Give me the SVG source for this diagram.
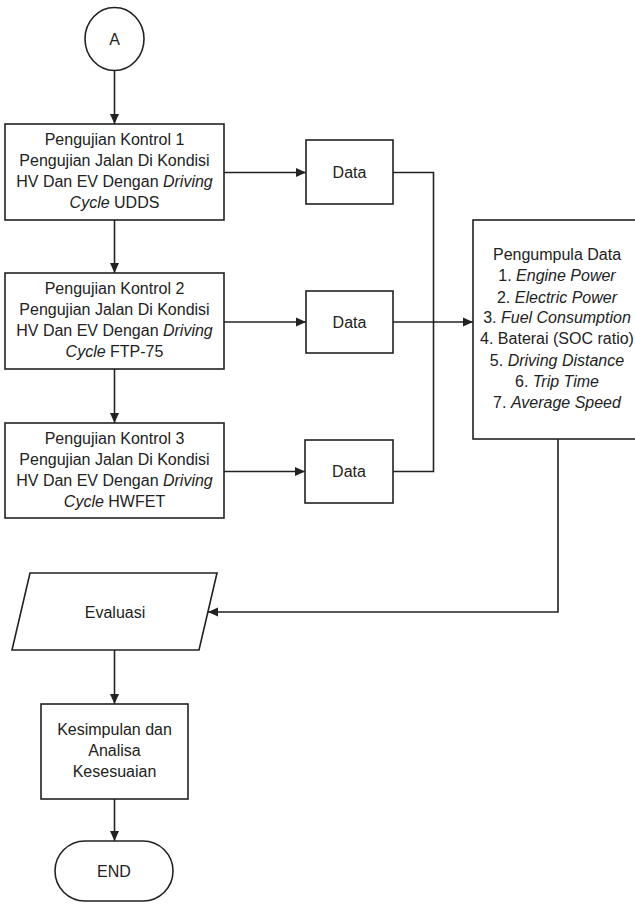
<svg xmlns="http://www.w3.org/2000/svg" width="635" height="904" viewBox="0 0 635 904">
<style>
.s{fill:#fff;stroke:#222;stroke-width:1.6}
.c{fill:none;stroke:#222;stroke-width:1.6}
text{font-family:"Liberation Sans",Arial,sans-serif;font-size:16px;fill:#222;text-anchor:middle}
.i{font-style:italic}
</style>
<defs>
<marker id="ah" viewBox="0 0 10 10" refX="10" refY="5" markerWidth="10" markerHeight="10" markerUnits="userSpaceOnUse" orient="auto">
<path d="M0,0.5 L10,5 L0,9.5 Z" fill="#222"/>
</marker>
</defs>
<rect width="635" height="904" fill="#fff"/>
<g id="connectors">
<line class="c" x1="114.5" y1="70.5" x2="114.5" y2="124" marker-end="url(#ah)"/>
<line class="c" x1="114.5" y1="220" x2="114.5" y2="273" marker-end="url(#ah)"/>
<line class="c" x1="114.5" y1="369" x2="114.5" y2="423" marker-end="url(#ah)"/>
<line class="c" x1="224" y1="172.5" x2="306" y2="172.5" marker-end="url(#ah)"/>
<line class="c" x1="224" y1="322" x2="306" y2="322" marker-end="url(#ah)"/>
<line class="c" x1="224" y1="471.5" x2="305" y2="471.5" marker-end="url(#ah)"/>
<polyline class="c" points="393,172.5 433.5,172.5 433.5,471.5 393,471.5"/>
<line class="c" x1="393" y1="322" x2="473" y2="322" marker-end="url(#ah)"/>
<polyline class="c" points="558,439 558,612 208,612" marker-end="url(#ah)"/>
<line class="c" x1="114.5" y1="650" x2="114.5" y2="704" marker-end="url(#ah)"/>
<line class="c" x1="114.5" y1="799" x2="114.5" y2="841" marker-end="url(#ah)"/>
</g>
<g id="start">
<ellipse class="s" cx="114.5" cy="39" rx="29.5" ry="31.5"/>
<text x="114.5" y="44.5">A</text>
</g>
<g id="kontrol1">
<rect class="s" x="5" y="124" width="219" height="96"/>
<text x="114.5" y="144.5">Pengujian Kontrol 1</text>
<text x="114.5" y="166">Pengujian Jalan Di Kondisi</text>
<text x="114.5" y="187">HV Dan EV Dengan <tspan class="i">Driving</tspan></text>
<text x="114.5" y="208"><tspan class="i">Cycle</tspan> UDDS</text>
</g>
<g id="kontrol2">
<rect class="s" x="5" y="273" width="219" height="96"/>
<text x="114.5" y="293.5">Pengujian Kontrol 2</text>
<text x="114.5" y="315">Pengujian Jalan Di Kondisi</text>
<text x="114.5" y="336">HV Dan EV Dengan <tspan class="i">Driving</tspan></text>
<text x="114.5" y="357"><tspan class="i">Cycle</tspan> FTP-75</text>
</g>
<g id="kontrol3">
<rect class="s" x="5" y="423" width="219" height="95"/>
<text x="114.5" y="443.5">Pengujian Kontrol 3</text>
<text x="114.5" y="465">Pengujian Jalan Di Kondisi</text>
<text x="114.5" y="486">HV Dan EV Dengan <tspan class="i">Driving</tspan></text>
<text x="114.5" y="507"><tspan class="i">Cycle</tspan> HWFET</text>
</g>
<g id="data1">
<rect class="s" x="306" y="140" width="87" height="64"/>
<text x="349.5" y="178">Data</text>
</g>
<g id="data2">
<rect class="s" x="306" y="291" width="87" height="62"/>
<text x="349.5" y="328">Data</text>
</g>
<g id="data3">
<rect class="s" x="305" y="440" width="88" height="63"/>
<text x="349" y="477">Data</text>
</g>
<g id="pengumpulan">
<rect class="s" x="473" y="220" width="170" height="219"/>
<text x="557" y="260">Pengumpula Data</text>
<text x="557" y="281">1. <tspan class="i">Engine Power</tspan></text>
<text x="557" y="302.5">2. <tspan class="i">Electric Power</tspan></text>
<text x="557" y="323">3. <tspan class="i">Fuel Consumption</tspan></text>
<text x="557" y="344">4. Baterai (SOC ratio)</text>
<text x="557" y="365.5">5. <tspan class="i">Driving Distance</tspan></text>
<text x="557" y="386.5">6. <tspan class="i">Trip Time</tspan></text>
<text x="557" y="407.5">7. <tspan class="i">Average Speed</tspan></text>
</g>
<g id="evaluasi">
<polygon class="s" points="30,573 217,573 199,650 12,650"/>
<text x="115" y="617.5">Evaluasi</text>
</g>
<g id="kesimpulan">
<rect class="s" x="41" y="704" width="147" height="95"/>
<text x="114.5" y="734.5">Kesimpulan dan</text>
<text x="114.5" y="755.5">Analisa</text>
<text x="114.5" y="776.5">Kesesuaian</text>
</g>
<g id="end">
<rect class="s" x="55" y="841" width="118" height="60" rx="30" ry="30"/>
<text x="114" y="877">END</text>
</g>
</svg>
